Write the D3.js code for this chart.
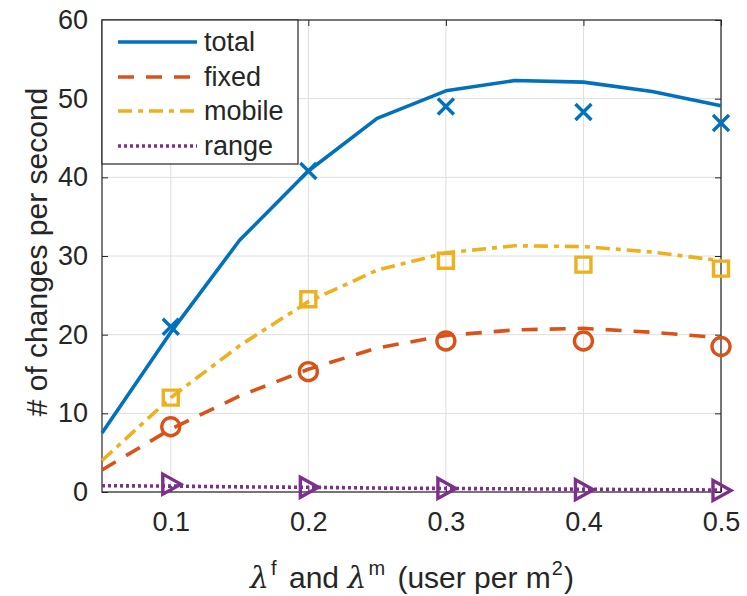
<!DOCTYPE html>
<html>
<head>
<meta charset="utf-8">
<script src="https://cdn.jsdelivr.net/npm/d3@7/dist/d3.min.js"></script>
<style>
  html, body { margin: 0; padding: 0; background: #fff; }
  svg { display: block; }
  text { font-family: "Liberation Sans", Arial, Helvetica, sans-serif; fill: #262626; }
</style>
</head>
<body>
<svg id="chart" width="747" height="596"></svg>
<script>
// Analytical curves (lines) sampled every 0.05
const xLine = [0.05, 0.10, 0.15, 0.20, 0.25, 0.30, 0.35, 0.40, 0.45, 0.50];
const totalLine  = [7.5, 20.3, 32.0, 40.8, 47.5, 51.0, 52.3, 52.1, 50.9, 49.1];
const fixedLine  = [2.8, 8.0, 12.2, 15.6, 18.3, 19.9, 20.6, 20.8, 20.3, 19.6];
const mobileLine = [4.0, 12.0, 18.6, 24.2, 28.2, 30.4, 31.3, 31.2, 30.5, 29.4];
const rangeLine  = [0.8, 0.75, 0.65, 0.6, 0.5, 0.45, 0.4, 0.35, 0.3, 0.25];

// Simulated points (markers)
const xSim = [0.1, 0.2, 0.3, 0.4, 0.5];
const totalSim  = [21.0, 40.8, 49.0, 48.3, 46.9];
const fixedSim  = [8.3, 15.3, 19.2, 19.2, 18.5];
const mobileSim = [12.0, 24.5, 29.4, 28.9, 28.4];
const rangeSim  = [1.0, 0.6, 0.45, 0.3, 0.2];

const xTicks = [0.1, 0.2, 0.3, 0.4, 0.5];
const yTicks = [0, 10, 20, 30, 40, 50, 60];

const seriesNames = ["total", "fixed", "mobile", "range"];
const colors = ["#0072BD", "#D95319", "#EDB120", "#7E2F8E"];
const dashes = [null, "16,12", "14,6,5,6", "3,3"];
const markers = ["cross", "circle", "square", "triangle"];

const svg = d3.select("#chart");
const L = 102, R = 721, T = 20, B = 492;
const x = d3.scaleLinear().domain([0.05, 0.5]).range([L, R]);
const y = d3.scaleLinear().domain([0, 60]).range([B, T]);

const axisColor = "#262626";
const fontSize = 27;
const titleSize = 30;
const lineW = 3.6;

// grid
const grid = svg.append("g");
grid.selectAll(".gx").data(xTicks).join("line")
  .attr("x1", d => x(d)).attr("x2", d => x(d))
  .attr("y1", T).attr("y2", B)
  .attr("stroke", "#dedede").attr("stroke-width", 1);
grid.selectAll(".gy").data(yTicks).join("line")
  .attr("x1", L).attr("x2", R)
  .attr("y1", d => y(d)).attr("y2", d => y(d))
  .attr("stroke", "#dedede").attr("stroke-width", 1);

// axes with inward ticks on all four sides
const tickLen = 6;
const axB = svg.append("g").attr("transform", `translate(0,${B})`)
  .call(d3.axisBottom(x).tickValues(xTicks).tickSizeInner(-tickLen).tickSizeOuter(0).tickPadding(20).tickFormat(d3.format(".1f")));
const axT = svg.append("g").attr("transform", `translate(0,${T})`)
  .call(d3.axisTop(x).tickValues(xTicks).tickSizeInner(-tickLen).tickSizeOuter(0).tickFormat(""));
const axL = svg.append("g").attr("transform", `translate(${L},0)`)
  .call(d3.axisLeft(y).tickValues(yTicks).tickSizeInner(-tickLen).tickSizeOuter(0).tickPadding(14).tickFormat(d3.format("d")));
const axR = svg.append("g").attr("transform", `translate(${R},0)`)
  .call(d3.axisRight(y).tickValues(yTicks).tickSizeInner(-tickLen).tickSizeOuter(0).tickFormat(""));
[axB, axT, axL, axR].forEach(a => {
  a.select(".domain").remove();
  a.selectAll(".tick line").attr("stroke", axisColor).attr("stroke-width", 1);
  a.selectAll("text").attr("font-size", fontSize).attr("font-family", null).attr("fill", axisColor);
});
axB.selectAll("text").attr("dy", "0.71em");
// box
svg.append("rect").attr("x", L).attr("y", T).attr("width", R - L).attr("height", B - T)
  .attr("fill", "none").attr("stroke", axisColor).attr("stroke-width", 1.2);

// lines
const lineSeries = [totalLine, fixedLine, mobileLine, rangeLine];
const simSeries = [totalSim, fixedSim, mobileSim, rangeSim];
const lineGen = d3.line().x((d, i) => x(xLine[i])).y(d => y(d));
lineSeries.forEach((vals, k) => {
  svg.append("path").datum(vals)
    .attr("d", lineGen)
    .attr("fill", "none")
    .attr("stroke", colors[k])
    .attr("stroke-width", lineW)
    .attr("stroke-dasharray", dashes[k])
    .attr("stroke-linejoin", "round");
});

// markers
function markerPath(type) {
  switch (type) {
    case "cross": return "M-8,-8L8,8M-8,8L8,-8";
    case "square": return "M-7.5,-7.5H7.5V7.5H-7.5Z";
    case "triangle": return "M-8,-10L10,0L-8,10Z";
    default: return null;
  }
}
simSeries.forEach((vals, k) => {
  const g = svg.append("g");
  vals.forEach((v, i) => {
    const cx = x(xSim[i]), cy = y(v);
    if (markers[k] === "circle") {
      g.append("circle").attr("cx", cx).attr("cy", cy).attr("r", 9)
        .attr("fill", "none").attr("stroke", colors[k]).attr("stroke-width", 3.4);
    } else {
      g.append("path").attr("d", markerPath(markers[k]))
        .attr("transform", `translate(${cx},${cy})`)
        .attr("fill", "none").attr("stroke", colors[k]).attr("stroke-width", 3.4)
        .attr("stroke-linejoin", "miter");
    }
  });
});

// legend
const leg = svg.append("g");
leg.append("rect").attr("x", L).attr("y", T).attr("width", 298 - L).attr("height", 164 - T)
  .attr("fill", "#fff").attr("stroke", axisColor).attr("stroke-width", 1.2);
const legRows = [42, 77, 111, 146];
seriesNames.forEach((name, k) => {
  leg.append("line").attr("x1", 118).attr("x2", 197)
    .attr("y1", legRows[k]).attr("y2", legRows[k])
    .attr("stroke", colors[k]).attr("stroke-width", lineW)
    .attr("stroke-dasharray", dashes[k]);
  leg.append("text").attr("x", 204).attr("y", legRows[k]).attr("dy", "0.35em")
    .attr("font-size", fontSize).text(name);
});

// axis titles
const xt = svg.append("text").attr("x", 412).attr("y", 588)
  .attr("text-anchor", "middle").attr("font-size", titleSize);
xt.append("tspan").attr("font-style", "italic").attr("font-family", "'DejaVu Serif', serif").text("λ");
xt.append("tspan").attr("dy", -13).attr("dx", 2).attr("font-size", 20).text("f");
xt.append("tspan").attr("dy", 13).attr("dx", 4).text(" and ");
xt.append("tspan").attr("font-style", "italic").attr("font-family", "'DejaVu Serif', serif").text("λ");
xt.append("tspan").attr("dy", -13).attr("dx", 2).attr("font-size", 20).text("m");
xt.append("tspan").attr("dy", 13).attr("dx", 4).text(" (user per m");
xt.append("tspan").attr("dy", -13).attr("dx", 1).attr("font-size", 20).text("2");
xt.append("tspan").attr("dy", 13).attr("dx", 1).text(")");

svg.append("text")
  .attr("transform", `translate(47,${252}) rotate(-90)`)
  .attr("text-anchor", "middle").attr("font-size", titleSize)
  .text("# of changes per second");
</script>
</body>
</html>
